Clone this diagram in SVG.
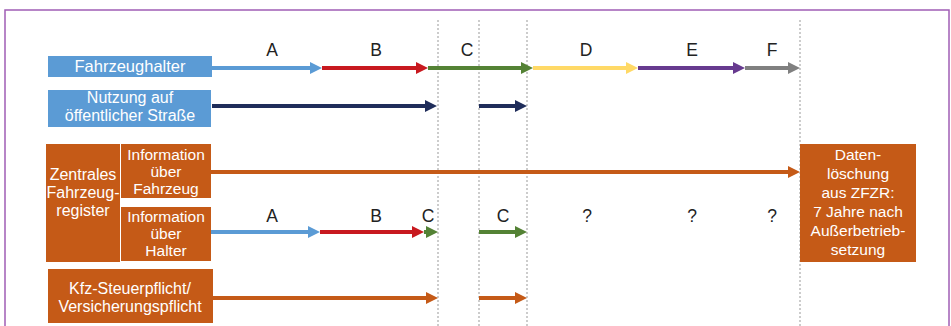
<svg xmlns="http://www.w3.org/2000/svg" width="951" height="326" viewBox="0 0 951 326">
<style>
.t{font-family:"Liberation Sans",Arial,sans-serif;font-size:16px;text-anchor:middle}
.m{font-size:16.5px}
.d{font-size:15.5px}
.s{font-size:15.5px}
.l{font-size:17.5px}
.w{fill:#ffffff}
.k{fill:#222222}
.bl{fill:#5b9bd5}
.or{fill:#c55a17}
.ln{stroke-width:4;fill:none}
.dash{stroke:#999999;stroke-width:1;stroke-dasharray:2 2}
</style>
<defs>
<marker id="mBlue" viewBox="0 0 12 12" refX="2" refY="6" markerWidth="12" markerHeight="12" markerUnits="userSpaceOnUse" orient="auto"><path d="M0,0L12,6L0,12z" fill="#5b9bd5"/></marker>
<marker id="mRed" viewBox="0 0 12 12" refX="2" refY="6" markerWidth="12" markerHeight="12" markerUnits="userSpaceOnUse" orient="auto"><path d="M0,0L12,6L0,12z" fill="#c8191f"/></marker>
<marker id="mGreen" viewBox="0 0 12 12" refX="2" refY="6" markerWidth="12" markerHeight="12" markerUnits="userSpaceOnUse" orient="auto"><path d="M0,0L12,6L0,12z" fill="#548235"/></marker>
<marker id="mYellow" viewBox="0 0 12 12" refX="2" refY="6" markerWidth="12" markerHeight="12" markerUnits="userSpaceOnUse" orient="auto"><path d="M0,0L12,6L0,12z" fill="#ffd966"/></marker>
<marker id="mPurple" viewBox="0 0 12 12" refX="2" refY="6" markerWidth="12" markerHeight="12" markerUnits="userSpaceOnUse" orient="auto"><path d="M0,0L12,6L0,12z" fill="#673a8f"/></marker>
<marker id="mGray" viewBox="0 0 12 12" refX="2" refY="6" markerWidth="12" markerHeight="12" markerUnits="userSpaceOnUse" orient="auto"><path d="M0,0L12,6L0,12z" fill="#808080"/></marker>
<marker id="mNavy" viewBox="0 0 12 12" refX="2" refY="6" markerWidth="12" markerHeight="12" markerUnits="userSpaceOnUse" orient="auto"><path d="M0,0L12,6L0,12z" fill="#1f2d5a"/></marker>
<marker id="mOrange" viewBox="0 0 12 12" refX="2" refY="6" markerWidth="12" markerHeight="12" markerUnits="userSpaceOnUse" orient="auto"><path d="M0,0L12,6L0,12z" fill="#c55a17"/></marker>
</defs>
<rect x="0" y="0" width="951" height="326" fill="#ffffff"/>
<rect x="5" y="10" width="944" height="330" fill="none" stroke="#a05eb5" stroke-width="1.5"/>

<g id="gridlines">
<line class="dash" x1="438" y1="20" x2="438" y2="326"/>
<line class="dash" x1="479" y1="20" x2="479" y2="326"/>
<line class="dash" x1="527" y1="20" x2="527" y2="326"/>
<line class="dash" x1="800" y1="20" x2="800" y2="326"/>
</g>

<g id="node-fahrzeughalter">
<rect class="bl" x="48" y="56" width="164" height="21"/>
<text class="t m w" x="130" y="72">Fahrzeughalter</text>
</g>
<g id="node-nutzung">
<rect class="bl" x="48" y="90" width="163" height="37"/>
<text class="t w" x="130" y="103">Nutzung auf</text>
<text class="t w" x="130" y="121">öffentlicher Straße</text>
</g>
<g id="node-zfzr">
<rect class="or" x="46" y="144" width="74" height="118"/>
<text class="t w" x="83" y="180">Zentrales</text>
<text class="t w" x="83" y="198">Fahrzeug-</text>
<text class="t w" x="83" y="216">register</text>
</g>
<g id="node-info-fahrzeug">
<rect class="or" x="121" y="144" width="90" height="54"/>
<text class="t s w" x="166" y="160">Information</text>
<text class="t s w" x="166" y="177">über</text>
<text class="t s w" x="166" y="194">Fahrzeug</text>
</g>
<g id="node-info-halter">
<rect class="or" x="121" y="207" width="90" height="54"/>
<text class="t s w" x="166" y="222">Information</text>
<text class="t s w" x="166" y="239">über</text>
<text class="t s w" x="166" y="256">Halter</text>
</g>
<g id="node-kfz">
<rect class="or" x="48" y="269" width="165" height="54"/>
<text class="t w" x="130" y="294">Kfz-Steuerpflicht/</text>
<text class="t w" x="130" y="312">Versicherungspflicht</text>
</g>
<g id="node-datenloeschung">
<rect class="or" x="800" y="144" width="116" height="118"/>
<text class="t d w" x="858" y="160">Daten-</text>
<text class="t d w" x="858" y="179">löschung</text>
<text class="t d w" x="858" y="198">aus ZFZR:</text>
<text class="t d w" x="858" y="217">7 Jahre nach</text>
<text class="t d w" x="858" y="236">Außerbetrieb-</text>
<text class="t d w" x="858" y="255">setzung</text>
</g>

<g id="connectors">
<line class="ln" stroke="#5b9bd5" x1="212" y1="68" x2="312" y2="68" marker-end="url(#mBlue)"/>
<line class="ln" stroke="#c8191f" x1="322" y1="68" x2="418" y2="68" marker-end="url(#mRed)"/>
<line class="ln" stroke="#548235" x1="428" y1="68" x2="523" y2="68" marker-end="url(#mGreen)"/>
<line class="ln" stroke="#ffd966" x1="533" y1="68" x2="628" y2="68" marker-end="url(#mYellow)"/>
<line class="ln" stroke="#673a8f" x1="638" y1="68" x2="735" y2="68" marker-end="url(#mPurple)"/>
<line class="ln" stroke="#808080" x1="745" y1="68" x2="790" y2="68" marker-end="url(#mGray)"/>

<line class="ln" stroke="#1f2d5a" x1="212" y1="106" x2="427" y2="106" marker-end="url(#mNavy)"/>
<line class="ln" stroke="#1f2d5a" x1="479" y1="106" x2="517" y2="106" marker-end="url(#mNavy)"/>

<line class="ln" stroke="#c55a17" x1="211" y1="172" x2="790" y2="172" marker-end="url(#mOrange)"/>

<line class="ln" stroke="#5b9bd5" x1="211" y1="232" x2="310" y2="232" marker-end="url(#mBlue)"/>
<line class="ln" stroke="#c8191f" x1="320" y1="232" x2="414" y2="232" marker-end="url(#mRed)"/>
<line class="ln" stroke="#548235" x1="424" y1="232" x2="428" y2="232" marker-end="url(#mGreen)"/>
<line class="ln" stroke="#548235" x1="479" y1="232" x2="517" y2="232" marker-end="url(#mGreen)"/>

<line class="ln" stroke="#c55a17" x1="213" y1="298" x2="428" y2="298" marker-end="url(#mOrange)"/>
<line class="ln" stroke="#c55a17" x1="479" y1="298" x2="517" y2="298" marker-end="url(#mOrange)"/>
</g>

<g id="labels">
<text class="t l k" x="272" y="56">A</text>
<text class="t l k" x="376" y="56">B</text>
<text class="t l k" x="467" y="56">C</text>
<text class="t l k" x="586" y="56">D</text>
<text class="t l k" x="692" y="56">E</text>
<text class="t l k" x="772" y="56">F</text>
<text class="t l k" x="272" y="222">A</text>
<text class="t l k" x="376" y="222">B</text>
<text class="t l k" x="428" y="222">C</text>
<text class="t l k" x="503" y="222">C</text>
<text class="t l k" x="587" y="222">?</text>
<text class="t l k" x="692" y="222">?</text>
<text class="t l k" x="772" y="222">?</text>
</g>
</svg>
